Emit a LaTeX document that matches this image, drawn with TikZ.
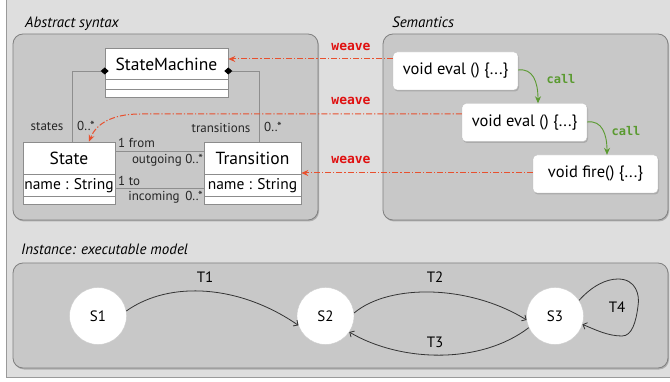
\documentclass[tikz,border=0pt]{standalone}
\usepackage{fontspec}
\setmainfont{PT Sans}
\newfontfamily\codefont{DejaVu Sans Mono}
\usetikzlibrary{arrows.meta,shadows,calc}

\definecolor{bgc}{HTML}{DEDEDE}
\definecolor{framec}{HTML}{9A9A9A}
\definecolor{panelfill}{HTML}{C8C8C8}
\definecolor{panelline}{HTML}{808080}
\definecolor{clsline}{HTML}{8C8C8C}
\definecolor{assoccol}{HTML}{8E8E8E}
\definecolor{weavecol}{HTML}{E8502E}
\definecolor{weavetxt}{HTML}{E01010}
\definecolor{callcol}{HTML}{5A9A30}
\definecolor{edgecol}{HTML}{333333}

\begin{document}
\begin{tikzpicture}[x=1pt,y=-1pt,
  panel/.style={draw=panelline, fill=panelfill, rounded corners=10pt, line width=0.8pt,
    drop shadow={shadow xshift=1pt, shadow yshift=-1.5pt, opacity=0.5}},
  ptitle/.style={anchor=base west, inner sep=0, font=\fontsize{15}{18}\selectfont\itshape},
  cls/.style={draw=clsline, fill=white, inner sep=0, line width=0.6pt},
  clsname/.style={inner sep=0, font=\fontsize{17.5}{20}\selectfont},
  attr/.style={inner sep=0, font=\fontsize{15.5}{18}\selectfont},
  role/.style={inner sep=0, font=\fontsize{13}{15}\selectfont, text=black!85},
  assoc/.style={draw=assoccol, line width=0.8pt},
  comp/.style={draw=assoccol, line width=0.8pt, {Diamond[length=8pt,width=7pt,fill=black,color=black]}-},
  code/.style={draw=black!25, fill=white, rounded corners=4pt, inner sep=0,
    minimum width=125pt, minimum height=38pt, font=\fontsize{16.5}{19}\selectfont,
    drop shadow={shadow xshift=1pt, shadow yshift=-1.5pt, opacity=0.4}},
  weave/.style={color=weavecol, line width=1pt, dash pattern=on 6pt off 2pt on 1.2pt off 2pt,
    -{Stealth[length=7pt,width=6pt]}},
  weavelbl/.style={inner sep=0, text=weavetxt, font=\codefont\bfseries\fontsize{13}{15}\selectfont},
  callarrow/.style={color=callcol, line width=0.9pt, -{Stealth[length=7pt,width=6pt]}},
  calllbl/.style={inner sep=0, text=callcol, font=\codefont\bfseries\fontsize{12}{14}\selectfont},
  stnode/.style={circle, draw=black!20, fill=white, minimum size=57pt, inner sep=0,
    font=\fontsize{15}{18}\selectfont},
  trans/.style={color=edgecol, line width=0.8pt, -{Straight Barb[length=3.5pt,width=7pt]}},
  tlbl/.style={inner sep=0, font=\fontsize{15}{18}\selectfont}
]
\useasboundingbox (0,0) rectangle (670,382);

% page background with its frame on the left and bottom
\fill[white] (0,0) rectangle (670,382);
\fill[bgc] (6,0) rectangle (670,377);
\draw[framec, line width=0.8pt] (6,0) -- (6,377) -- (670,377);

% panels
\path[panel] (13,34) rectangle (318,220);
\path[panel] (383,34) rectangle (668,220);
\path[panel] (13,263) rectangle (668,368);

\node[ptitle] (tabs) at (25,28) {Abstract syntax};
\node[ptitle] (tsem) at (392,28) {Semantics};
\node[ptitle] (tins) at (21,255) {Instance: executable model};

% ---- abstract syntax: class diagram ----
\node[cls, minimum width=123pt, minimum height=49pt] (sm) at (166.5,72.5) {};
\node[clsname] (smname) at (166.5,64) {StateMachine};
\draw[clsline, line width=0.6pt] (105,79) -- (228,79) (105,89) -- (228,89);

\node[cls, minimum width=92pt, minimum height=62pt] (state) at (69,173) {};
\node[clsname] (statename) at (69,158) {State};
\node[attr] (stateattr) at (69,185.5) {name : String};
\draw[clsline, line width=0.6pt] (23,174) -- (115,174) (23,196) -- (115,196);

\node[cls, minimum width=97pt, minimum height=62pt] (trans) at (252.5,173) {};
\node[clsname] (transname) at (252.5,158) {Transition};
\node[attr] (transattr) at (252.5,185.5) {name : String};
\draw[clsline, line width=0.6pt] (204,174) -- (301,174) (204,196) -- (301,196);

% composition links from StateMachine
\draw[comp] ($(sm.west |- 0,71)+(4,0)$) -| (state.north -| 72,0);
\draw[comp] ($(sm.east |- 0,71)+(-4,0)$) -| (trans.north -| 259,0);
\node[role] (lstates) at (47,127) {states};
\node[role] (mstates) at (86,126) {0..*};
\node[role] (ltrans) at (221,128) {transitions};
\node[role] (mtrans) at (273,127) {0..*};

% associations between State and Transition
\draw[assoc] (state.east |- 0,151) -- (trans.west |- 0,151);
\draw[assoc] (state.east |- 0,188) -- (trans.west |- 0,188);
\node[role, anchor=west] (lfrom) at (118,143) {1 from};
\node[role, anchor=east] (lout) at (203,160) {outgoing 0..*};
\node[role, anchor=west] (lto) at (118,181) {1 to};
\node[role, anchor=east] (lin) at (203,197) {incoming\, 0..*};

% ---- semantics: woven code ----
\node[code] (f1) at (455.5,71) {void eval () \{...\}};
\node[code] (f2) at (524.5,122.5) {void eval () \{...\}};
\node[code] (f3) at (595.5,174) {void fire() \{...\}};

\draw[callarrow] (f1.east |- 0,70) .. controls (533,68) and (538,82) .. (f2.north -| 538,0);
\draw[callarrow] (f2.east |- 0,122) .. controls (602,120) and (607,134) .. (f3.north -| 607,0);
\node[calllbl] (c1) at (561,79) {call};
\node[calllbl] (c2) at (626,131) {call};

\draw[weave] (f1.west |- 0,59) -- (sm.east |- 0,59);
\draw[weave] (f2.west |- 0,114) -- (140,114) .. controls (112,114) and (96,124) .. (state.north -| 89,0);
\draw[weave] (f3.west |- 0,173) -- (trans.east |- 0,173);
\node[weavelbl] (w1) at (351,47) {weave};
\node[weavelbl] (w2) at (351,101) {weave};
\node[weavelbl] (w3) at (351,160) {weave};

% ---- instance: executable model ----
\node[stnode] (s1) at (98,316) {S1};
\node[stnode] (s2) at (325.5,316) {S2};
\node[stnode] (s3) at (555,316) {S3};

\draw[trans] (s1.10) .. controls (170,280) and (240,285) .. (s2.199);
\draw[trans] (s2.6) .. controls (390,283) and (470,285) .. (s3.188);
\draw[trans] (s3.204) .. controls (480,365) and (400,362) .. (s2.-34);
\draw[trans] (s3.33) .. controls (592,286) and (606,279) .. (618,279)
  .. controls (636,279) and (640,295) .. (638,306)
  .. controls (636,322) and (632,336) .. (622,336)
  .. controls (608,336) and (596,330) .. (s3.-17);

\node[tlbl] (t1) at (205,277) {T1};
\node[tlbl] (t2) at (435,277) {T2};
\node[tlbl] (t3) at (435,342) {T3};
\node[tlbl] (t4) at (617,307) {T4};
\end{tikzpicture}
\end{document}
